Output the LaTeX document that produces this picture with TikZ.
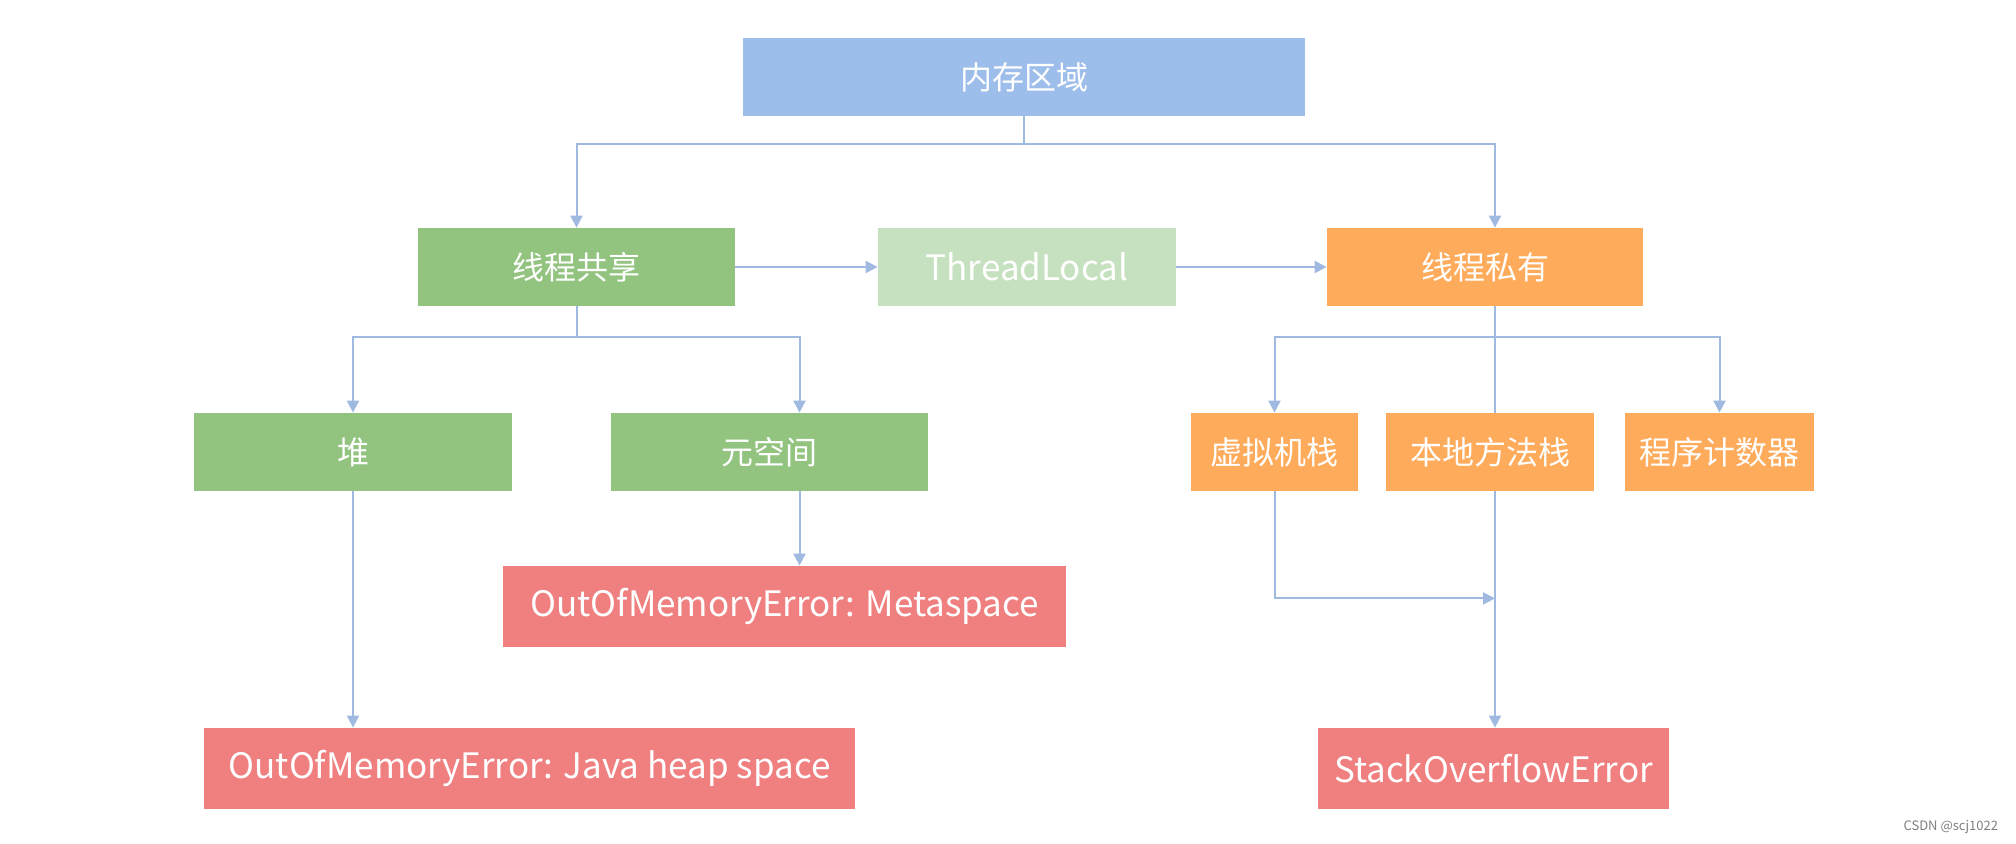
\documentclass[tikz,border=0pt]{standalone}
\usepackage{fontspec}
\setmainfont{Noto Sans CJK SC}
\usepackage{tikz}
\usetikzlibrary{arrows.meta, positioning}

\definecolor{memblue}{RGB}{157,189,235}
\definecolor{sharegreen}{RGB}{146,196,128}
\definecolor{tlgreen}{RGB}{198,225,192}
\definecolor{privorange}{RGB}{255,171,92}
\definecolor{errred}{RGB}{240,128,128}
\definecolor{linkblue}{RGB}{160,185,225}

\begin{document}
\begin{tikzpicture}[
    x=0.5pt, y=-0.5pt,
    box/.style={rectangle, minimum height=39pt, inner sep=0pt, text=white, font=\fontsize{16}{19}\selectfont},
    areabox/.style={box, fill=memblue},
    sharedbox/.style={box, fill=sharegreen},
    privbox/.style={box, fill=privorange},
    errbox/.style={box, fill=errred, minimum height=40.5pt, font=\fontsize{17.5}{20}\selectfont},
    arrow/.style={-{Triangle[width=6pt,length=6pt]}, line width=1pt, draw=linkblue},
    link/.style={line width=1pt, draw=linkblue}
]
\fill[white] (0,0) rectangle (2016,844);
\useasboundingbox (0,0) rectangle (2016,844);

% Memory area
\node[areabox, minimum width=281pt] (mem) at (1024,77) {内存区域};

% Shared / private
\node[sharedbox, minimum width=158.5pt] (shared) at (576.5,267) {线程共享};
\node[box, fill=tlgreen, minimum width=149pt, font=\fontsize{17.5}{20}\selectfont] (tlocal) at (1027,267) {ThreadLocal};
\node[privbox, minimum width=158pt] (private) at (1485,267) {线程私有};

% Regions
\node[sharedbox, minimum width=159pt] (heap) at (353,452) {堆};
\node[sharedbox, minimum width=158.5pt] (meta) at (769.5,452) {元空间};
\node[privbox, minimum width=83.5pt] (vmstack) at (1274.5,452) {虚拟机栈};
\node[privbox, minimum width=104pt] (native) at (1490,452) {本地方法栈};
\node[privbox, minimum width=94.5pt] (pc) at (1719.5,452) {程序计数器};

% Errors
\node[errbox, minimum width=281.5pt] (metaerr) at (784.5,606.5) {OutOfMemoryError: Metaspace};
\node[errbox, minimum width=325.5pt] (heaperr) at (529.5,768.5) {OutOfMemoryError: Java heap space};
\node[errbox, minimum width=175.5pt] (soe) at (1493.5,768.5) {StackOverflowError};

\node[anchor=east, text=gray, font=\fontsize{6.5}{8}\selectfont] (mark) at (2005,827) {CSDN @scj1022};

% Arrows
\coordinate (split) at ([yshift=-14pt]mem.south);
\draw[link] (mem) -- (split);
\draw[arrow] (split) -| (shared);
\draw[arrow] (split) -| ([xshift=5pt]private.north);
\draw[arrow] (shared) -- (tlocal);
\draw[arrow] (tlocal) -- (private);

\coordinate (sharedsplit) at ([yshift=-15.5pt]shared.south);
\draw[link] (shared) -- (sharedsplit);
\draw[arrow] (sharedsplit) -| (heap);
\draw[arrow] (sharedsplit) -| ([xshift=15pt]meta.north);
\draw[arrow] ([xshift=15pt]meta.south) -- ([xshift=15pt]meta.south |- metaerr.north);
\draw[arrow] (heap) -- (heap |- heaperr.north);

\coordinate (privsplit) at ([xshift=5pt,yshift=-15.5pt]private.south);
\draw[link] ([xshift=5pt]private.south) -- (privsplit) -- (privsplit |- native.north);
\draw[arrow] (privsplit) -| (vmstack);
\draw[arrow] (privsplit) -| (pc);
\draw[arrow] (privsplit |- native.south) -- (privsplit |- soe.north);
\coordinate (vmturn) at ([yshift=-53.5pt]vmstack.south);
\draw[arrow] (vmstack) |- (vmturn -| privsplit);

\end{tikzpicture}
\end{document}
